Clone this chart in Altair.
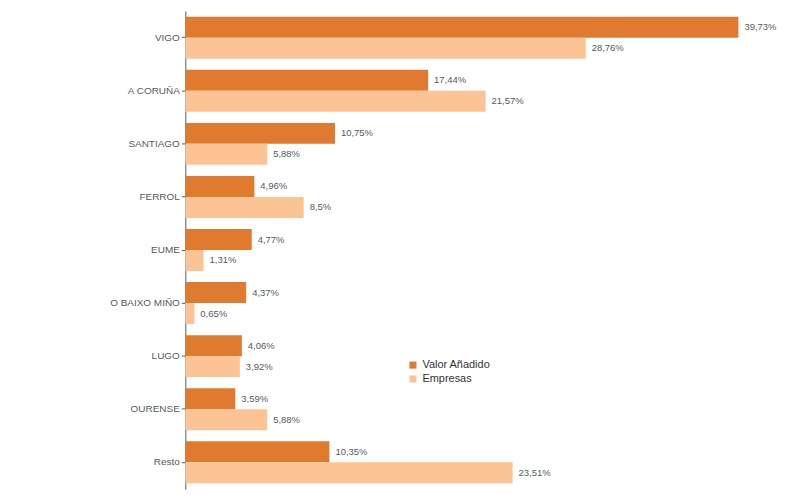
import altair as alt
import pandas as pd

comarcas = ["VIGO", "A CORUÑA", "SANTIAGO", "FERROL", "EUME", "O BAIXO MIÑO", "LUGO", "OURENSE", "Resto"]
valor_anadido = [39.73, 17.44, 10.75, 4.96, 4.77, 4.37, 4.06, 3.59, 10.35]
empresas = [28.76, 21.57, 5.88, 8.5, 1.31, 0.65, 3.92, 5.88, 23.51]
series = ["Valor Añadido", "Empresas"]
colors = ["#DF7A2E", "#FCC494"]

rows = []
for i, c in enumerate(comarcas):
    rows.append({"comarca": c, "serie": series[0], "valor": valor_anadido[i], "orden": 0})
    rows.append({"comarca": c, "serie": series[1], "valor": empresas[i], "orden": 1})
df = pd.DataFrame(rows)

font = "Liberation Sans"

base = alt.Chart(df).encode(
    y=alt.Y("comarca:N", sort=comarcas, title=None,
            scale=alt.Scale(paddingInner=0.21, paddingOuter=0.11),
            axis=alt.Axis(labelFont=font, labelFontSize=10, labelColor="#555a60",
                          domainColor="#555a60", tickColor="#555a60", tickSize=4,
                          labelPadding=2)),
    yOffset=alt.YOffset("serie:N", sort=series, scale=alt.Scale(paddingInner=0, paddingOuter=0)),
    x=alt.X("valor:Q", scale=alt.Scale(domain=[0, 40], nice=False), axis=None),
)

bars = base.mark_bar().encode(
    color=alt.Color("serie:N", sort=series,
                    scale=alt.Scale(domain=series, range=colors),
                    legend=alt.Legend(title=None, orient="none", legendX=223, legendY=350,
                                      symbolType="square", symbolSize=50,
                                      labelFont=font, labelFontSize=11, labelColor="#333333",
                                      rowPadding=2, symbolStrokeWidth=0))
)

labels = base.mark_text(align="left", baseline="middle", dx=6, font=font,
                        fontSize=9.5, color="#555a60").transform_calculate(
    etiqueta="replace(format(datum.valor, '.2~f'), '.', ',') + '%'"
).encode(text="etiqueta:N")

chart = (bars + labels).properties(
    width=559, height=480,
    autosize="none",
    padding={"left": 178, "top": 2, "right": 50, "bottom": 10},
).configure_view(stroke=None)

chart.save("out.html", embed_options={"renderer": "svg", "actions": False})
